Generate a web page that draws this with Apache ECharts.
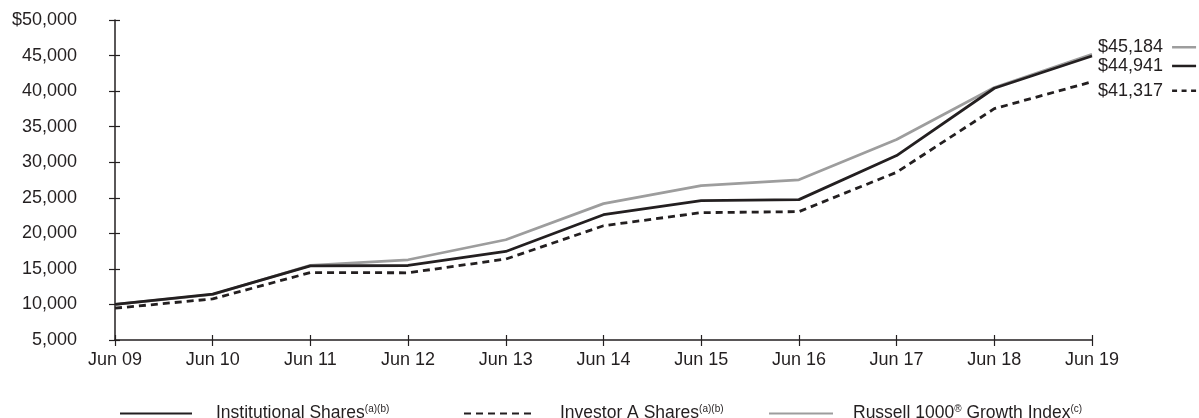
<!DOCTYPE html>
<html>
<head>
<meta charset="utf-8">
<script src="https://cdn.jsdelivr.net/npm/echarts@6/dist/echarts.min.js"></script>
<style>
  html, body { margin: 0; padding: 0; background: #fff; }
  #chart { width: 1199px; height: 418px; }
</style>
</head>
<body>
<div id="chart"></div>
<script>
// Growth of a hypothetical $10,000 investment
const years = ['Jun 09', 'Jun 10', 'Jun 11', 'Jun 12', 'Jun 13', 'Jun 14', 'Jun 15', 'Jun 16', 'Jun 17', 'Jun 18', 'Jun 19'];
const institutional = [10000, 11440, 15430, 15480, 17450, 22620, 24600, 24740, 30940, 40400, 44941];
const investorA = [9475, 10780, 14490, 14450, 16380, 21070, 22910, 23050, 28590, 37530, 41317];
const russell = [10000, 11400, 15500, 16280, 19100, 24180, 26710, 27520, 33200, 40500, 45184];

const yMin = 5000, yMax = 50000, yStep = 5000;

const INK = '#231f20';
const GREY = '#9d9d9d';
const FONT = 'Arial, "Liberation Sans", Helvetica, sans-serif';

const chart = echarts.init(document.getElementById('chart'), null, { renderer: 'canvas' });

function fmtDollar(v) {
  return '$' + Number(v).toLocaleString('en-US');
}

// value label at the end of a line, followed by a short key swatch
function endLabel(color, dashed, dy) {
  const key = dashed ? '{d|}{k|}{d|}{k|}{d|}' : '{l|}';
  return {
    show: true,
    distance: 6,
    offset: [0, dy],
    formatter: p => '{v|' + fmtDollar(p.value) + '}{g|}' + key,
    rich: {
      v: { fontFamily: FONT, fontSize: 18, color: INK },
      g: { width: 9 },
      l: { width: 24, height: 2.5, backgroundColor: color },
      d: { width: 5, height: 2.5, backgroundColor: color },
      k: { width: 4.5 }
    }
  };
}

const legendRich = {
  n: { fontFamily: FONT, fontSize: 17.5, color: INK },
  s: { fontFamily: FONT, fontSize: 10, color: INK, verticalAlign: 'top', padding: [0, 0, 9, 0] }
};

function legendAt(name, left, width, gap, label) {
  return {
    data: [name],
    left: left,
    top: 399,
    itemWidth: width,
    itemHeight: 14,
    selectedMode: false,
    itemStyle: { opacity: 0 },
    formatter: () => label,
    textStyle: { rich: legendRich, padding: [0, 0, 0, gap] }
  };
}

const axisCommonY = { type: 'value', min: yMin, max: yMax, interval: yStep, splitLine: { show: false } };
const axisCommonX = { type: 'category', data: years, boundaryGap: false, splitLine: { show: false } };

chart.setOption({
  animation: false,
  backgroundColor: '#fff',
  grid: { left: 115, right: 107, top: 20, bottom: 78, containLabel: false },
  legend: [
    legendAt('Institutional Shares', 114, 72, 19, '{n|Institutional Shares}{s|(a)(b)}'),
    legendAt('Investor A Shares', 458, 72, 19, '{n|Investor A Shares}{s|(a)(b)}'),
    legendAt('Russell 1000 Growth Index', 763, 64, 15, '{n|Russell 1000}{s|®}{n| Growth Index}{s|(c)}')
  ],
  xAxis: [
    Object.assign({}, axisCommonX, {
      axisLine: { lineStyle: { color: INK, width: 1.5 } },
      axisTick: { show: true, length: 6, inside: false, lineStyle: { color: INK, width: 1.2 } },
      axisLabel: { color: INK, fontFamily: FONT, fontSize: 18, margin: 11 }
    }),
    Object.assign({}, axisCommonX, {
      position: 'bottom',
      axisLine: { show: false },
      axisTick: { show: true, length: 5, inside: true, lineStyle: { color: INK, width: 1.2 } },
      axisLabel: { show: false }
    })
  ],
  yAxis: [
    Object.assign({}, axisCommonY, {
      axisLine: { show: true, lineStyle: { color: INK, width: 1.5 } },
      axisTick: { show: true, length: 6, inside: false, lineStyle: { color: INK, width: 1.2 } },
      axisLabel: {
        color: INK, fontFamily: FONT, fontSize: 18, margin: 38,
        formatter: v => v === yMax ? fmtDollar(v) : Number(v).toLocaleString('en-US')
      }
    }),
    Object.assign({}, axisCommonY, {
      position: 'left',
      axisLine: { show: false },
      axisTick: { show: true, length: 5, inside: true, lineStyle: { color: INK, width: 1.2 } },
      axisLabel: { show: false }
    })
  ],
  series: [
    {
      name: 'Russell 1000 Growth Index', type: 'line', data: russell,
      symbol: 'none', z: 2,
      lineStyle: { color: GREY, width: 2.7 }, itemStyle: { color: GREY },
      endLabel: endLabel(GREY, false, -7)
    },
    {
      name: 'Institutional Shares', type: 'line', data: institutional,
      symbol: 'none', z: 4,
      lineStyle: { color: INK, width: 2.8 }, itemStyle: { color: INK },
      endLabel: endLabel(INK, false, 10)
    },
    {
      name: 'Investor A Shares', type: 'line', data: investorA,
      symbol: 'none', z: 3,
      lineStyle: { color: INK, width: 2.8, type: [7, 5] }, itemStyle: { color: INK },
      endLabel: endLabel(INK, true, 9)
    }
  ]
});
</script>
</body>
</html>
